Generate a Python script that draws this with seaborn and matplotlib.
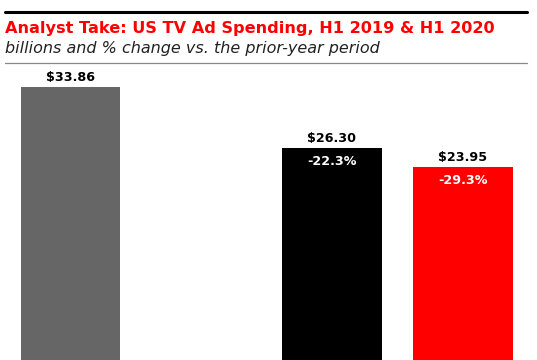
import matplotlib
matplotlib.use("Agg")
import matplotlib.pyplot as plt
from matplotlib.lines import Line2D
import seaborn as sns
import pandas as pd

# ---- data ----
periods = ["H1 2019", "H1 2020 (est. A)", "H1 2020 (est. B)"]
values = [33.86, 26.30, 23.95]
changes = [None, "-22.3%", "-29.3%"]
value_labels = ["$33.86", "$26.30", "$23.95"]
slot_order = ["H1 2019", " ", "H1 2020 (est. A)", "H1 2020 (est. B)"]
colors = {"H1 2019": "#666666", "H1 2020 (est. A)": "#000000", "H1 2020 (est. B)": "#ff0000"}

title = "Analyst Take: US TV Ad Spending, H1 2019 & H1 2020"
subtitle = "billions and % change vs. the prior-year period"

df = pd.DataFrame({"period": periods, "value": values})

sns.set_style("white")
plt.rcParams["font.family"] = ["DejaVu Sans"]

W, H = 537, 360
fig = plt.figure(figsize=(W / 100, H / 100), dpi=100)
ax = fig.add_axes([0, 0, 1, 297 / H])

sns.barplot(data=df, x="period", y="value", hue="period", order=slot_order,
            palette=colors, legend=False, width=0.765, saturation=1,
            edgecolor="none", ax=ax)

slot = 130.7
ax.set_xlim(-70.5 / slot, (W - 70.5) / slot)
ax.set_ylim(0, 36.8)
ax.axis("off")

lookup = {p: i for i, p in enumerate(periods)}
for patch in ax.patches:
    h = patch.get_height()
    if h is None or h != h or h == 0:
        continue
    cx = patch.get_x() + patch.get_width() / 2
    name = slot_order[int(round(cx))]
    i = lookup[name]
    ax.annotate(value_labels[i], (cx, h), xytext=(0, 3.8), textcoords="offset points",
                ha="center", va="baseline", fontsize=9.2, fontweight="bold", color="black")
    if changes[i]:
        ax.annotate(changes[i], (cx, h), xytext=(0, -12.3), textcoords="offset points",
                    ha="center", va="baseline", fontsize=9.2, fontweight="bold", color="white")

# header
fig.add_artist(Line2D([5 / W, 527 / W], [1 - 12 / H, 1 - 12 / H], color="black", lw=2.2))
fig.add_artist(Line2D([5 / W, 527 / W], [1 - 63 / H, 1 - 63 / H], color="#888888", lw=0.9))
fig.text(5 / W, 1 - 33 / H, title, color="#ff0000", fontsize=11.6, fontweight="bold",
         ha="left", va="baseline")
fig.text(5 / W, 1 - 53 / H, subtitle, color="#222222", fontsize=11.5, style="italic",
         ha="left", va="baseline")

fig.savefig("out.png", dpi=100)
